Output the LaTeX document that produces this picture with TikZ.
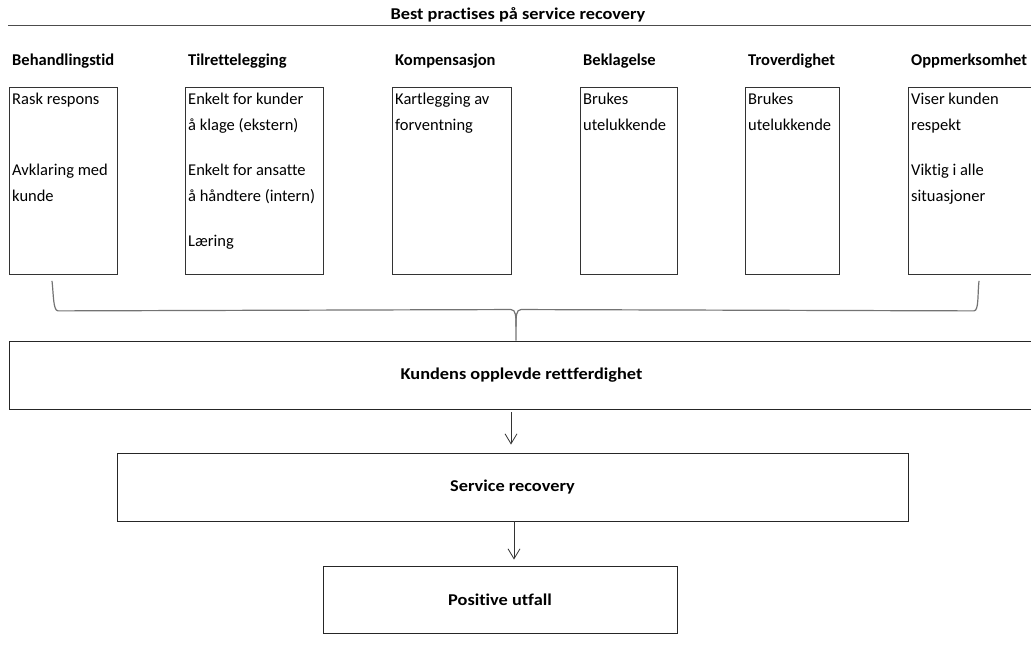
\documentclass[tikz,border=0pt]{standalone}
\usepackage{fontspec}
\setmainfont{Carlito}[Ligatures=NoCommon]
\newfontfamily\widefont{Carlito}[FakeStretch=1.11, Ligatures=NoCommon]
\usetikzlibrary{positioning, arrows.meta, calc}

\begin{document}
\begin{tikzpicture}[
  x=1pt, y=-1pt,
  node distance=19pt and 3pt,
  font=\fontsize{16.5}{26}\selectfont,
  % Styles for the columns
  head/.style={anchor=south west, inner sep=0pt, font=\fontsize{16.5}{26}\selectfont\bfseries},
  col/.style={draw=black!80, line width=0.9pt, anchor=north west, minimum height=187pt, inner sep=0pt},
  list/.style={anchor=north west, align=left, inner sep=0pt},
  % Styles for the bars
  bar/.style={draw=black!85, line width=0.9pt, minimum height=67pt, inner sep=0pt, font=\widefont\fontsize{16.5}{26}\selectfont\bfseries},
  % Styles for connectors
  line/.style={draw=black!80, line width=0.8pt, -{Straight Barb[length=10pt, width=12pt]}},
  brace/.style={draw=black!55, line width=1.2pt}
]
  \useasboundingbox (0,0) rectangle (1031,652);
  \clip (0,0) rectangle (1031,652);

  % ==========================================
  % TITLE
  % ==========================================
  \node[inner sep=0pt, font=\widefont\fontsize{16.5}{26}\selectfont\bfseries] (titel) at (518,15) {Best practises på service recovery};
  \draw[black!70, line width=0.9pt] (8,25) -- (1031,25);

  % ==========================================
  % COLUMNS
  % ==========================================
  \node[col, minimum width=108pt] (b-tid) at (9,87) {};
  \node[col, minimum width=138pt] (b-til) at (185,87) {};
  \node[col, minimum width=119pt] (b-komp) at (392,87) {};
  \node[col, minimum width=97pt] (b-bekl) at (580,87) {};
  \node[col, minimum width=94pt] (b-tro) at (745,87) {};
  \node[col, minimum width=126pt] (b-opp) at (908,87) {};

  % Overskrifter
  \node[head, above right=of b-tid.north west] (h-tid) {Behandlingstid};
  \node[head, above right=of b-til.north west] (h-til) {Tilrettelegging};
  \node[head, above right=of b-komp.north west] (h-komp) {Kompensasjon};
  \node[head, above right=of b-bekl.north west] (h-bekl) {Beklagelse};
  \node[head, above right=of b-tro.north west] (h-tro) {Troverdighet};
  \node[head, above right=of b-opp.north west] (h-opp) {Oppmerksomhet};

  % Innhold
  \node[list, below right=6pt and 3pt of b-tid.north west] (t-tid) {Rask respons\\[45pt]Avklaring med\\kunde};
  \node[list, below right=6pt and 3pt of b-til.north west] (t-til) {Enkelt for kunder\\å klage (ekstern)\\[19pt]Enkelt for ansatte\\å håndtere (intern)\\[19pt]Læring};
  \node[list, below right=6pt and 3pt of b-komp.north west] (t-komp) {Kartlegging av\\forventning};
  \node[list, below right=6pt and 3pt of b-bekl.north west] (t-bekl) {Brukes\\utelukkende};
  \node[list, below right=6pt and 3pt of b-tro.north west] (t-tro) {Brukes\\utelukkende};
  \node[list, below right=6pt and 3pt of b-opp.north west] (t-opp) {Viser kunden\\respekt\\[19pt]Viktig i alle\\situasjoner};

  % ==========================================
  % BARS
  % ==========================================
  \node[bar, minimum width=1025pt, minimum height=68pt] (kundens) at (521.5,375) {Kundens opplevde rettferdighet};
  \node[bar, minimum width=791pt, minimum height=68pt] (service) at (512.5,487) {Service recovery};
  \node[bar, minimum width=354pt] (utfall) at (500,599.5) {Positive utfall};

  % ==========================================
  % CONNECTORS
  % ==========================================
  \coordinate (br-l) at ([yshift=-6pt]b-tid.south -| 52,0);
  \coordinate (br-r) at ([yshift=-6pt]b-opp.south -| 979,0);
  \coordinate (br-m) at (kundens.north -| 516,0);

  \draw[brace] (br-l) .. controls +(1.5,12) and +(-5,0) .. ($(br-l)+(6,30)$) -- ($(br-m)+(-5,-31)$)
    .. controls +(5,0) and +(0,-10) .. ($(br-m)+(0,-14)$) -- (br-m);
  \draw[brace] (br-r) .. controls +(-1.5,12) and +(5,0) .. ($(br-r)+(-5,30)$) -- ($(br-m)+(5,-31)$)
    .. controls +(-5,0) and +(0,-10) .. ($(br-m)+(0,-14)$);

  \draw[line, shorten <=3pt, shorten >=8pt] (kundens.south -| 511,0) -- (service.north -| 511,0);
  \draw[line, shorten >=6pt] (service.south -| 514,0) -- (utfall.north -| 514,0);

\end{tikzpicture}
\end{document}
